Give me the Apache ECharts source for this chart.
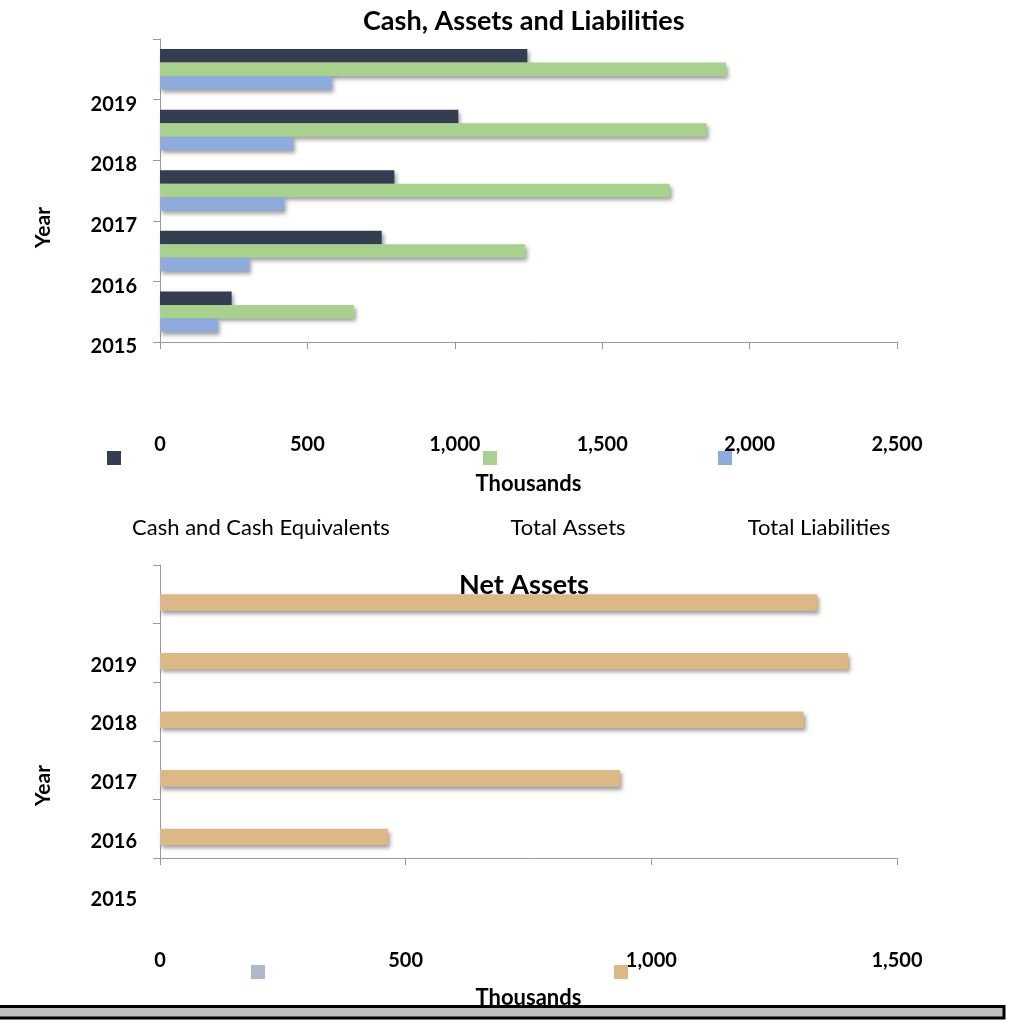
<!DOCTYPE html>
<html>
<head>
<meta charset="utf-8">
<script src="https://cdn.jsdelivr.net/npm/echarts@6/dist/echarts.min.js"></script>
<style>
  html, body { margin: 0; padding: 0; background: #ffffff; }
  #chart { width: 1024px; height: 1022px; }
</style>
</head>
<body>
<div id="chart"></div>
<script>
// Fiscal years, bottom to top on the category axis
const years = ['2015', '2016', '2017', '2018', '2019'];

// Balance sheet figures, in thousands
const cashAndEquivalents = [243, 752, 795, 1012, 1246];
const totalAssets = [658, 1239, 1729, 1854, 1920];
const totalLiabilities = [196, 303, 421, 452, 582];
const netAssets = [464, 936, 1310, 1400, 1338];
const placeholderSeries = [null, null, null, null, null];

// Value axis ticks
const topTicks = [0, 500, 1000, 1500, 2000, 2500];
const bottomTicks = [0, 500, 1000, 1500];

const FONT = 'Lato';
const AXIS_GREY = '#9a9a9a';

const fmt = v => Number(v).toLocaleString('en-US');

const shadow = {
  shadowColor: 'rgba(0,0,0,0.38)',
  shadowBlur: 4,
  shadowOffsetX: 2,
  shadowOffsetY: 3
};

// Category (year) axis; labelShift pushes each year label down from its band centre,
// nameShift moves the rotated "Year" caption down along the axis.
function categoryAxis(gridIndex, labelShift, nameShift) {
  return {
    type: 'category',
    gridIndex: gridIndex,
    data: years,
    name: 'Year',
    nameLocation: 'middle',
    nameRotate: 90,
    nameGap: 106,
    nameTextStyle: {
      fontFamily: FONT, fontWeight: 'bold', fontSize: 21, color: '#000',
      padding: [0, nameShift * 2, 0, 0]
    },
    axisLine: { show: true, lineStyle: { color: AXIS_GREY, width: 1 } },
    axisTick: { show: true, inside: false, length: 7, lineStyle: { color: AXIS_GREY } },
    axisLabel: {
      interval: 0,
      margin: 23,
      fontFamily: FONT,
      fontWeight: 'bold',
      fontSize: 20,
      color: '#000',
      formatter: v => '{y|' + v + '}',
      rich: { y: { padding: [labelShift * 2, 0, 0, 0], fontFamily: FONT, fontWeight: 'bold', fontSize: 20, color: '#000' } }
    },
    splitLine: { show: false }
  };
}

function valueAxis(gridIndex, ticks, nameGap) {
  return {
    type: 'value',
    gridIndex: gridIndex,
    min: ticks[0],
    max: ticks[ticks.length - 1],
    interval: ticks[1] - ticks[0],
    name: 'Thousands',
    nameLocation: 'middle',
    nameGap: nameGap,
    nameTextStyle: { fontFamily: FONT, fontWeight: 'bold', fontSize: 22, color: '#000' },
    axisLine: { show: true, lineStyle: { color: AXIS_GREY, width: 1 } },
    axisTick: { show: true, inside: false, length: 7, lineStyle: { color: AXIS_GREY } },
    axisLabel: {
      margin: 93,
      fontFamily: FONT,
      fontWeight: 'bold',
      fontSize: 20,
      color: '#000',
      formatter: fmt
    },
    splitLine: { show: false }
  };
}

function iconLegend(name, left, top) {
  return {
    data: [name],
    left: left,
    top: top,
    padding: 0,
    icon: 'rect',
    itemWidth: 14,
    itemHeight: 14,
    formatter: () => '',
    selectedMode: false
  };
}

function caption(text, x, y) {
  return {
    type: 'text', x: x, y: y,
    style: { text: text, fontFamily: FONT, fontSize: 22, fill: '#000', align: 'center', verticalAlign: 'middle' }
  };
}

const chart = echarts.init(document.getElementById('chart'), null, { renderer: 'canvas' });

chart.setOption({
  animation: false,
  backgroundColor: '#ffffff',
  title: [
    {
      text: 'Cash, Assets and Liabilities',
      left: 363, top: 8,
      padding: 0,
      textStyle: { fontFamily: FONT, fontWeight: 'bold', fontSize: 27, color: '#000' }
    },
    {
      text: 'Net Assets',
      left: 459, top: 572,
      padding: 0,
      textStyle: { fontFamily: FONT, fontWeight: 'bold', fontSize: 27, color: '#000' }
    }
  ],
  legend: [
    iconLegend('Cash and Cash Equivalents', 107, 451),
    iconLegend('Total Assets', 483, 451),
    iconLegend('Total Liabilities', 718, 451),
    iconLegend('Series 1', 251, 965),
    iconLegend('Net Assets', 614, 965)
  ],
  grid: [
    { left: 160, top: 39, width: 737, height: 303 },
    { left: 160, top: 565, width: 737, height: 293 }
  ],
  yAxis: [categoryAxis(0, 35, 37), categoryAxis(1, 71, 74)],
  xAxis: [valueAxis(0, topTicks, 131), valueAxis(1, bottomTicks, 129)],
  series: [
    {
      name: 'Cash and Cash Equivalents', type: 'bar', xAxisIndex: 0, yAxisIndex: 0,
      data: cashAndEquivalents, barWidth: 13.5, barGap: '0%',
      itemStyle: Object.assign({ color: '#333e50' }, shadow)
    },
    {
      name: 'Total Assets', type: 'bar', xAxisIndex: 0, yAxisIndex: 0,
      data: totalAssets, barWidth: 13.5, barGap: '0%',
      itemStyle: Object.assign({ color: '#a9d18e' }, shadow)
    },
    {
      name: 'Total Liabilities', type: 'bar', xAxisIndex: 0, yAxisIndex: 0,
      data: totalLiabilities, barWidth: 13.5, barGap: '0%',
      itemStyle: Object.assign({ color: '#8faadc' }, shadow)
    },
    {
      name: 'Series 1', type: 'bar', xAxisIndex: 1, yAxisIndex: 1,
      data: placeholderSeries, barWidth: 16.5, barGap: '0%',
      itemStyle: Object.assign({ color: '#adb9ca' }, shadow)
    },
    {
      name: 'Net Assets', type: 'bar', xAxisIndex: 1, yAxisIndex: 1,
      data: netAssets, barWidth: 16.5, barGap: '0%',
      itemStyle: Object.assign({ color: '#dcb887' }, shadow)
    }
  ],
  graphic: [
    // legend captions for the upper chart
    caption('Cash and Cash Equivalents', 261, 528),
    caption('Total Assets', 568, 528),
    caption('Total Liabilities', 819, 528),
    // bar along the bottom edge
    { type: 'rect', z: 100, shape: { x: -5, y: 1006.5, width: 1009, height: 11.5 }, style: { fill: '#c0c0c0', stroke: '#000', lineWidth: 3 } }
  ]
});
</script>
</body>
</html>
